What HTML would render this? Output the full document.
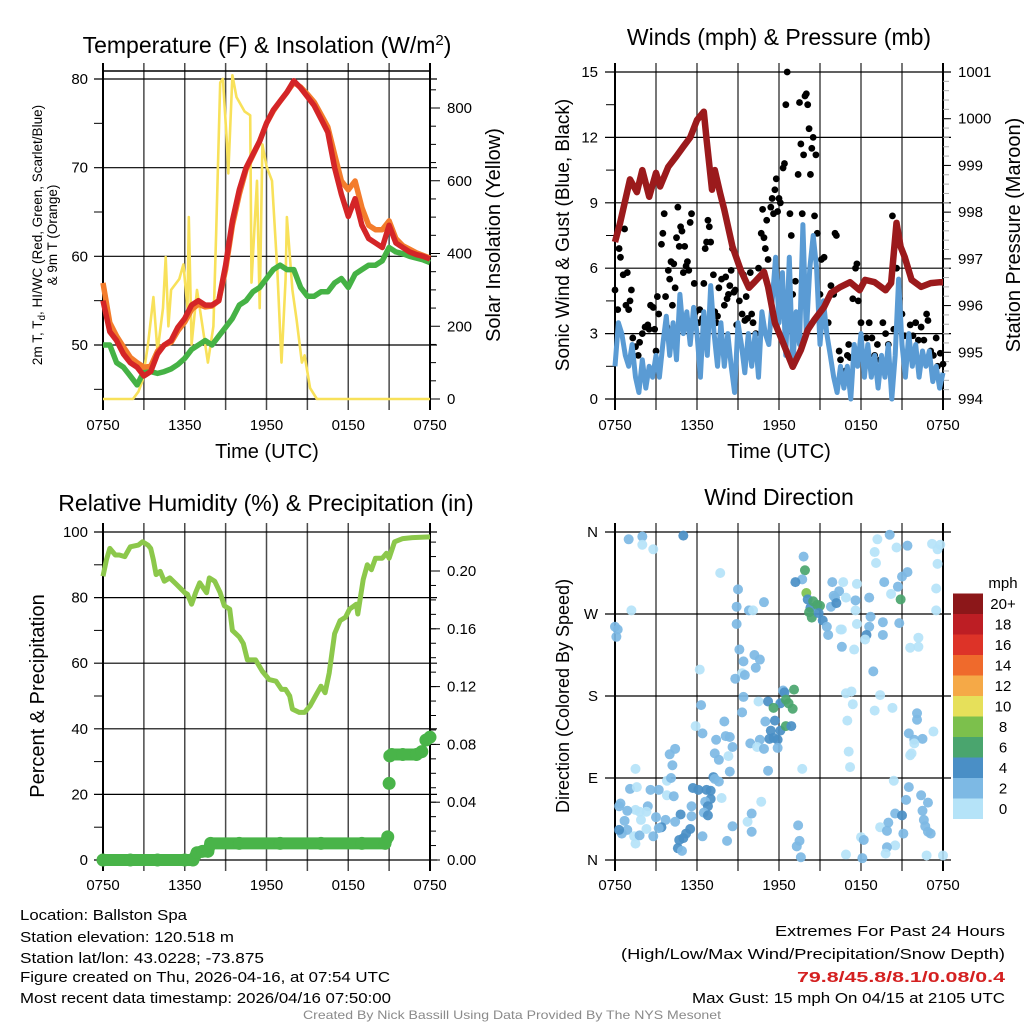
<!DOCTYPE html>
<html><head><meta charset="utf-8"><title>Ballston Spa meteogram</title>
<style>
html,body{margin:0;padding:0;background:#fff;}
svg{display:block;font-family:"Liberation Sans",sans-serif;}
</style></head>
<body>
<svg id="fig" xmlns="http://www.w3.org/2000/svg" width="1024" height="1024" viewBox="0 0 1024 1024">
<rect x="0" y="0" width="1024" height="1024" fill="#fff"/>
<text x="267" y="53" font-size="23" text-anchor="middle">Temperature (F) &amp; Insolation (W/m<tspan dy="-8" font-size="15">2</tspan><tspan dy="8">)</tspan></text>
<text x="779" y="45" font-size="23" text-anchor="middle">Winds (mph) &amp; Pressure (mb)</text>
<text x="266" y="511" font-size="23" text-anchor="middle">Relative Humidity (%) &amp; Precipitation (in)</text>
<text x="779" y="505" font-size="23" text-anchor="middle">Wind Direction</text>
<text x="267" y="458" font-size="20" text-anchor="middle">Time (UTC)</text>
<text x="779" y="458" font-size="20" text-anchor="middle">Time (UTC)</text>
<g transform="translate(42,235) rotate(-90)">
<text x="0" y="0" font-size="13.5" text-anchor="middle">2m T, T<tspan font-size="10" dy="3">d</tspan><tspan dy="-3">, HI/WC (Red, Green, Scarlet/Blue)</tspan></text>
<text x="0" y="15" font-size="13.5" text-anchor="middle">&amp; 9m T (Orange)</text>
</g>
<text transform="translate(500,235) rotate(-90)" font-size="20" text-anchor="middle">Solar Insolation (Yellow)</text>
<text transform="translate(569,235) rotate(-90)" font-size="19" text-anchor="middle">Sonic Wind &amp; Gust (Blue, Black)</text>
<text transform="translate(1020,235) rotate(-90)" font-size="20" text-anchor="middle">Station Pressure (Maroon)</text>
<text transform="translate(44,696) rotate(-90)" font-size="20" text-anchor="middle">Percent &amp; Precipitation</text>
<text transform="translate(569,696) rotate(-90)" font-size="18" text-anchor="middle">Direction (Colored By Speed)</text>
<text x="1003" y="588" font-size="15" text-anchor="middle">mph</text>
<g font-size="15">
<text x="20" y="920" textLength="167" lengthAdjust="spacingAndGlyphs">Location: Ballston Spa</text>
<text x="20" y="942" textLength="214" lengthAdjust="spacingAndGlyphs">Station elevation: 120.518 m</text>
<text x="20" y="963" textLength="244" lengthAdjust="spacingAndGlyphs">Station lat/lon: 43.0228; -73.875</text>
<text x="20" y="982" textLength="370" lengthAdjust="spacingAndGlyphs">Figure created on Thu, 2026-04-16, at 07:54 UTC</text>
<text x="20" y="1003" textLength="371" lengthAdjust="spacingAndGlyphs">Most recent data timestamp: 2026/04/16 07:50:00</text>
</g>
<g font-size="15">
<text x="775" y="936" textLength="230" lengthAdjust="spacingAndGlyphs">Extremes For Past 24 Hours</text>
<text x="621" y="959" textLength="384" lengthAdjust="spacingAndGlyphs">(High/Low/Max Wind/Precipitation/Snow Depth)</text>
<text x="797" y="982" textLength="208" lengthAdjust="spacingAndGlyphs" fill="#d42020" font-weight="bold">79.8/45.8/8.1/0.08/0.4</text>
<text x="692" y="1003" textLength="313" lengthAdjust="spacingAndGlyphs">Max Gust: 15 mph On 04/15 at 2105 UTC</text>
</g>
<text x="303" y="1019" font-size="12" fill="#8a8a8a" textLength="418" lengthAdjust="spacingAndGlyphs">Created By Nick Bassill Using Data Provided By The NYS Mesonet</text>
</svg>
<script>
// ---------------- data ----------------
const xTickLabels = ['0750','1350','1950','0150','0750'];
const xTickHours = [0,6,12,18,24];
const halfHours = [0,0.5,1,1.5,2,2.5,3,3.5,4,4.5,5,5.5,6,6.5,7,7.5,8,8.5,9,9.5,10,10.5,11,11.5,12,12.5,13,13.5,14,14.5,15,15.5,16,16.5,17,17.5,18,18.5,19,19.5,20,20.5,21,21.5,22,22.5,23,23.5,24];
const tempRed = [55,51.5,50.5,49,48,47.5,46.5,47,49,50,50.5,52,53,54.5,55,54.5,54.5,55,59,64,67.5,70,71.5,73,75,76.5,77.5,78.5,79.8,79,78,77,75.5,74,70,67,64.5,66.5,63.5,62,61.5,61,63.5,61.5,61,60.5,60.2,60,59.7];
const tempOrange = [57,52.5,51,49.8,48.6,48,47.5,47.6,49.3,50,50.3,51.6,52.6,54,54.6,54.3,54.4,55,58.5,63.5,67,69.8,71.4,73,75,76.4,77.5,78.5,79.6,79.1,78.3,77.4,76,74.6,71.5,68.5,67.5,68.5,65.5,63.5,63,63,64,62,61.2,60.8,60.4,60.1,59.8];
const dewGreen = [50,50,48,47.5,46.5,45.5,47,47,46.8,47,47.3,47.8,48.5,49.5,50,50.5,50,51,52,53,54.5,55,56,56.5,57.5,58.5,59,58.5,58.5,56.5,55.5,55.5,56,56,57,57.5,56.5,58,58.5,59,59,59.5,61,60.5,60.3,60,59.8,59.6,59.3];
const solarHours = [0,2.2,2.6,2.9,3.3,3.7,4.0,4.4,4.6,4.8,5.0,5.6,5.9,6.2,6.3,6.5,6.9,7.3,7.7,8.1,8.3,8.6,8.8,9.1,9.2,9.5,9.8,10.4,10.8,10.9,11.3,11.5,11.7,12.0,12.4,12.8,13.1,13.4,13.5,13.9,14.2,14.6,14.8,15.2,15.7,24];
const solarValues = [0,0,20,50,150,280,130,250,390,200,300,330,370,250,500,150,300,200,100,200,450,870,880,700,620,890,830,790,780,320,600,250,700,640,600,350,100,330,500,300,220,100,120,30,0,0];
const windHours = [];
for (let i = 0; i <= 96; i++) windHours.push(i * 0.25);
const windSpeed = [1.5,3.5,3,2,1.5,2.5,1,0.3,1.8,0.5,1.5,1,2,1,2.5,3.8,2,3.5,1.8,4.8,3,4,2.5,4.2,3,1,4,2,5.2,3,1.5,3.5,1.5,3,1.5,0.3,3.5,2.5,1.2,3,1.5,3,1,4,3,2.5,4.5,6.5,3.5,5.8,2,6.5,1.5,4,2.5,8,3,6,7.5,6,2.5,4.5,3,2,1,0.3,1.5,0.5,1.5,0,2.5,1.5,3,1,2.5,1,2,0.5,2,1,2.5,0,2,5.5,2.5,1,3,1.5,2.5,1,2.2,1.5,2.2,0.8,1.5,0.5,1.2];
const gustHours = [0,0.2,0.3,0.4,0.6,0.7,0.8,0.9,1.0,1.1,1.2,1.3,1.5,1.7,1.8,2.0,2.2,2.4,2.5,2.6,2.8,2.9,3.0,3.1,3.2,3.4,3.5,3.6,3.7,3.8,3.9,4.0,4.1,4.2,4.3,4.4,4.5,4.6,4.7,4.8,4.9,5.0,5.1,5.2,5.3,5.4,5.5,5.6,5.8,5.9,6.1,6.2,6.4,6.5,6.6,6.7,6.8,6.9,7.0,7.2,7.3,7.4,7.5,7.6,7.8,8.0,8.1,8.2,8.3,8.4,8.5,8.6,8.7,8.8,8.9,9.0,9.1,9.3,9.4,9.5,9.6,9.7,9.9,10.0,10.1,10.3,10.5,10.7,10.8,10.9,11.0,11.1,11.2,11.4,11.5,11.6,11.7,11.8,11.9,12.0,12.1,12.3,12.4,12.5,12.6,12.8,12.9,13.0,13.2,13.4,13.5,13.6,13.7,13.8,13.9,14.0,14.1,14.2,14.3,14.4,14.5,14.6,14.7,14.8,15.0,15.1,15.3,15.6,15.8,16.0,16.1,16.2,16.4,16.5,16.7,16.9,17.0,17.1,17.2,17.4,17.6,17.7,17.8,18.0,18.2,18.4,18.6,18.8,19.0,19.2,19.4,19.6,19.8,20.0,20.3,20.4,20.6,20.8,21.0,21.2,21.4,21.6,21.8,22.0,22.2,22.4,22.6,22.8,22.9,23.1,23.3,23.5,23.6,23.8,24.0];
const gustValues = [5.0,4.1,6.9,6.5,5.7,7.8,4.3,5.8,4.1,4.5,5.0,2.8,2.4,2.0,2.6,3.0,3.3,3.4,3.2,4.3,4.2,3.2,2.2,4.7,3.9,7.1,7.6,8.5,4.7,3.3,5.9,5.5,6.3,4.3,6.2,5.1,7.4,8.8,7.0,7.9,7.7,5.8,7.0,6.1,6.3,5.9,8.1,8.5,5.3,4.0,3.5,4.1,3.7,5.3,6.9,7.2,8.2,7.9,7.2,5.7,4.0,3.5,3.8,5.1,5.5,4.3,5.6,4.6,4.8,5.2,5.9,6.9,4.9,5.0,3.4,2.5,4.5,3.9,5.7,3.6,4.7,3.7,5.8,3.9,3.5,3.0,6.0,7.6,8.7,7.4,6.9,8.2,6.4,8.8,9.2,8.5,9.6,10.1,8.6,9.2,9.0,10.6,10.8,13.5,15.0,8.5,7.5,4.8,5.4,10.3,13.6,11.7,8.5,11.2,13.9,14.0,13.5,12.4,10.3,11.5,12.0,8.4,11.2,7.6,4.8,6.4,6.5,3.5,5.2,4.8,7.6,7.5,2.2,1.8,1.0,1.3,2.0,2.5,1.9,4.6,6.0,6.2,4.5,3.5,2.0,2.8,3.5,2.8,2.0,2.5,1.8,3.5,3.0,2.5,8.4,3.2,6.0,4.6,3.9,2.9,2.0,3.4,2.9,3.5,2.7,3.3,2.7,3.9,3.6,2.2,2.0,2.8,1.5,2.1,1.6];
const presHours = [0,0.37,1.1,1.6,2,2.5,3,3.3,3.9,4.5,5,5.5,6,6.5,6.7,7.1,7.3,7.7,8,8.6,9.2,9.8,10.2,10.9,11.2,11.7,12.3,13,13.6,14.1,14.6,15.3,15.8,16.5,17.2,17.9,18.3,19,19.8,20.2,20.6,20.9,21.2,21.7,22.4,23.1,23.8,24];
const presValues = [997.36,997.77,998.7,998.43,998.9,998.33,998.84,998.55,998.97,999.2,999.4,999.6,999.97,1000.15,999.55,998.48,998.9,998.4,998.05,997.26,996.76,996.38,996.5,996.72,996.4,995.63,995.2,994.69,995.05,995.48,995.7,995.97,996.27,996.4,996.5,996.33,996.55,996.5,996.33,996.48,997.77,997.26,997.04,996.55,996.4,996.48,996.5,996.5];
const rhHours = [0,0.25,0.5,0.9,1.2,1.6,2,2.6,2.9,3.3,3.5,3.7,3.9,4.2,4.5,4.9,5.4,6,6.2,6.5,6.8,7.1,7.6,7.8,8.2,8.6,8.9,9.3,9.5,10,10.3,10.6,11.2,11.7,12.2,12.7,13.1,13.4,13.7,13.9,14.4,14.8,15.2,15.6,16,16.3,16.6,17,17.4,17.8,18.1,18.6,18.7,19.1,19.4,19.7,20,20.5,20.8,21,21.4,22,22.7,24];
const rhValues = [86.5,91.5,95,93,93,92.5,95.5,96,97,96,95,91.5,87,88,85,86,84,81.5,81,78,81.5,84.5,81.5,86,85,81.5,77.5,76.5,70,68,66,61,61,57.5,55,54.5,52,52,50,46,45,45,47,50,53,51,57,69,73,74,76.5,78,75,85.5,90,88.5,92,92,93.5,92,97,98,98.3,98.5];
const precipHours = [0,2,4,6,6.6,6.9,7.3,7.7,7.9,10,13,16,19,20.7,20.9,21,21.05,21.2,22,23,23.4,23.7,24];
const precipValues = [0,0,0,0,0,0.005,0.006,0.006,0.0115,0.0115,0.0115,0.0115,0.0115,0.0115,0.016,0.053,0.072,0.073,0.073,0.073,0.075,0.083,0.085];
const dirHours = [
 1.0,2.0,2.0,2.8,5.0,7.7,1.2,0,0.2,0.1,
 9.0,8.9,8.9,9.8,10.1,10.9,9.1,10.2,10.6,9.4,10.3,9.3,9.5,8.8,6.2,
 13.8,13.9,13.7,13.2,14.0,14.1,14.3,14.5,14.8,15.0,14.2,14.4,14.9,15.2,15.5,15.6,
 15.9,16.1,16.4,16.0,15.8,16.2,
 16.7,16.9,17.6,17.7,17.6,17.7,16.5,16.6,16.6,17.5,
 18.6,18.7,18.6,18.4,18.3,18.9,
 19.7,19.6,19.6,
 20.2,20.7,20.9,20.8,21.0,21.4,
 19.2,19.0,19.1,20.1,20.6,21.4,
 23.2,23.6,23.8,23.6,23.5,23.5,
 22.2,21.6,22.2,
 16.9,17.3,17.4,19.4,19.0,20.3,17.0,
 22.1,22.1,21.5,21.9,22.5,21.9,23.3,21.6,21.7,
 17.1,17.2,
 20.4,21.5,22.4,21.3,22.9,20.5,21.0,22.5,22.6,20.0,19.4,19.9,22.7,22.9,23.1,21.1,20.5,19.9,19.8,18.0,18.2,18.1,16.9,22.8,24.0,
 13.4,13.5,13.3,13.6,13.7,
 9.7,10.0,10.0,10.7,8.2,8.6,
 9.4,10.5,9.3,11.2,12.1,11.6,12.3,12.4,13.1,12.5,12.7,13.0,11.0,11.7,11.4,12.1,12.5,12.9,10.6,11.3,11.9,11.6,9.9,10.4,10.9,11.9,11.2,
 6.3,5.9,6.4,7.4,8.0,8.1,8.4,8.6,7.3,7.6,8.3,8.4,
 4.4,4.0,4.2,1.5,3.8,4.1,7.2,7.3,7.6,7.8,
 1.1,1.6,2.6,3.2,3.8,4.3,5.7,6.1,6.7,7.0,7.0,6.6,6.8,5.6,6.5,6.8,4.8,5.6,5.5,5.2,5.0,4.7,4.6,4.9,6.4,4.4,3.7,3.4,2.8,3.0,2.4,2.3,1.9,1.8,1.5,0.9,0.4,0.3,0.7,0.9,0.5,0.3,1.4,1.5,1.8,2.3,3.2];
const dirDegrees = [
 352,355,346,341,356,315,274,256,253,245,
 297,278,259,274,274,283,231,225,220,218,211,205,203,199,209,
 333,318,308,305,293,286,277,284,280,279,272,266,271,263,256,247,
 305,288,295,290,278,282,
 305,288,285,303,274,259,253,253,234,231,
 288,267,256,247,242,207,
 305,261,247,
 292,300,286,260,311,316,
 352,338,326,357,343,345,
 347,341,346,325,298,274,
 244,233,234,
 183,185,171,181,164,167,153,
 161,154,139,132,133,128,141,115,117,
 119,102,
 87,80,71,66,63,51,49,54,44,41,36,32,37,31,29,29,16,14,7,25,22,2,6,5,5,
 38,21,15,3,100,
 42,31,51,64,21,37,
 179,174,162,174,172,167,186,184,187,176,172,166,152,153,142,142,147,147,132,133,132,134,128,124,122,123,98,
 170,147,139,132,152,136,135,124,117,110,114,97,
 122,116,104,100,87,90,91,89,86,68,
 78,80,77,77,71,70,79,77,77,76,67,64,59,59,52,49,50,48,34,29,24,22,13,10,26,42,44,36,26,47,59,53,44,53,55,54,62,59,43,33,29,33,26,18,27,34,35];
const dirSpeeds = [
 3,3,1,1,5,1,1,3,3,3,
 3,3,3,3,1,3,3,3,3,3,3,1,3,3,1,
 3,7,3,5,9,5,5,7,7,7,7,7,5,5,3,3,
 3,3,3,3,3,5,
 1,1,3,1,1,1,1,1,3,1,
 3,3,3,5,1,3,
 3,3,3,
 1,3,7,3,3,3,
 1,1,1,3,1,3,
 1,1,1,1,1,1,
 1,1,1,
 1,1,1,1,1,1,1,
 3,3,3,3,3,1,1,1,1,
 1,1,
 1,3,3,3,3,3,5,3,3,3,1,3,3,3,3,3,1,3,1,1,3,3,1,1,1,
 3,3,3,3,1,
 1,3,3,1,3,3,
 3,1,3,5,5,7,3,5,7,7,7,7,3,5,5,5,7,5,3,5,5,5,3,1,3,3,3,
 3,1,3,3,3,3,3,3,3,3,1,3,
 3,3,3,1,1,3,5,3,3,1,
 3,1,3,3,1,3,5,5,5,5,5,3,5,3,3,5,5,3,5,5,5,5,5,3,3,3,3,5,3,3,3,1,1,1,1,3,3,3,3,3,3,5,1,1,3,1,3];
const cbLabels = ['0','2','4','6','8','10','12','14','16','18','20+'];
const cbColors = ['#b5e3f8','#7db9e4','#4a8fc6','#4aa56e','#7cc04c','#e6e05a','#f5a947','#ef6a2c','#dd3328','#bd1e24','#8c1719'];

// ---------------- helpers ----------------
const NS = 'http://www.w3.org/2000/svg';
const svg = document.getElementById('fig');
function mk(tag, attrs, parent) {
  const e = document.createElementNS(NS, tag);
  for (const k in attrs) e.setAttribute(k, attrs[k]);
  (parent || svg).appendChild(e);
  return e;
}
function linearScale(d0, d1, r0, r1) { return v => r0 + (v - d0) * (r1 - r0) / (d1 - d0); }
function pathFrom(xs, ys, fx, fy) {
  let d = '';
  const n = Math.min(xs.length, ys.length);
  for (let i = 0; i < n; i++) d += (i ? 'L' : 'M') + fx(xs[i]).toFixed(1) + ',' + fy(ys[i]).toFixed(1);
  return d;
}
function timeGrid(name, x0, x1, yTop, yBot, labelY) {
  const fx = linearScale(0, 24, x0, x1);
  for (let h = 0; h <= 24; h += 3) {
    const edge = (h === 0 || h === 24);
    const ln = mk('line', {x1: fx(h), x2: fx(h), y1: yTop - 9, y2: yBot + 11, stroke: edge ? '#000' : '#4a4a4a', 'stroke-width': edge ? 2 : 1.5});
    
    
  }
  for (let i = 0; i < xTickHours.length; i++) {
    const t = mk('text', {x: fx(xTickHours[i]), y: labelY, 'font-size': 15, 'text-anchor': 'middle'});
    t.textContent = xTickLabels[i];
    
    
  }
  return fx;
}
function hGrid(name, xa, xb, y) {
  const ln = mk('line', {x1: xa, x2: xb, y1: y, y2: y, stroke: '#000', 'stroke-width': 1.2});
  
  
}
function tickLabel(name, x, y, txt, anchor) {
  const t = mk('text', {x: x, y: y + 5, 'font-size': 15, 'text-anchor': anchor});
  t.textContent = txt;
  
  
}
function tick(name, x1, x2, y, color) {
  const ln = mk('line', {x1: x1, x2: x2, y1: y, y2: y, stroke: color || '#000', 'stroke-width': 1});
  
  
}

// ================= Panel 1: temperature =================
const p1x = timeGrid('temp', 103, 430, 72, 399, 430);
const p1y = linearScale(50, 80, 345, 79);
const p1s = linearScale(0, 800, 399, 108);
for (let v = 50; v <= 80; v += 10) { hGrid('temp', 94, 437, p1y(v)); tickLabel('temp-y-tick-label', 88, p1y(v), String(v), 'end'); }
for (let v = 45; v <= 80; v += 10) tick('temp-minor-tick', 94, 103, p1y(v));
for (let v = 0; v <= 880; v += 50) tick('solar-minor-tick', 430, v % 200 === 0 ? 440 : 436, p1s(v));
for (let v = 0; v <= 800; v += 200) tickLabel('solar-y-tick-label', 447, p1s(v), String(v), 'start');
const p1frame = mk('path', {d: 'M103,71H430M103,399H430', stroke: '#000', 'stroke-width': 1.5, fill: 'none'});


const solarLine = mk('path', {d: pathFrom(solarHours, solarValues, p1x, p1s), stroke: '#f8e15a', 'stroke-width': 2.6, fill: 'none', 'stroke-linejoin': 'round'});


const dewLine = mk('path', {d: pathFrom(halfHours, dewGreen, p1x, p1y), stroke: '#45b245', 'stroke-width': 5.5, fill: 'none', 'stroke-linejoin': 'round'});


const t9Line = mk('path', {d: pathFrom(halfHours, tempOrange, p1x, p1y), stroke: '#f37c2c', 'stroke-width': 5.5, fill: 'none', 'stroke-linejoin': 'round'});


const t2Line = mk('path', {d: pathFrom(halfHours, tempRed, p1x, p1y), stroke: '#d42527', 'stroke-width': 5.5, fill: 'none', 'stroke-linejoin': 'round'});



// ================= Panel 2: winds & pressure =================
const p2x = timeGrid('wind', 615, 943, 72, 399, 430);
const p2y = linearScale(0, 15, 399, 72);
const p2p = linearScale(994, 1001, 399, 72);
for (let v = 0; v <= 15; v += 3) { hGrid('wind', 605, 951, p2y(v)); tickLabel('wind-y-tick-label', 598, p2y(v), String(v), 'end'); }
for (let v = 1.5; v < 15; v += 3) tick('wind-minor-tick', 606, 615, p2y(v));
for (let v = 994; v <= 1001.01; v += 0.2) tick('pressure-minor-tick', 943, 949, p2p(v), '#aaa');
for (let v = 994; v <= 1001; v += 1) { tick('pressure-major-tick', 943, 951, p2p(v)); tickLabel('pressure-y-tick-label', 958, p2p(v), String(v), 'start'); }
const gustG = mk('g', {});


for (let i = 0; i < Math.min(gustHours.length, gustValues.length); i++) {
  const c = mk('circle', {cx: p2x(gustHours[i]), cy: p2y(gustValues[i]), r: 3.4, fill: '#000'}, gustG);
  
  
}
const windLine = mk('path', {d: pathFrom(windHours, windSpeed, p2x, p2y), stroke: '#5a9bd4', 'stroke-width': 5, fill: 'none', 'stroke-linejoin': 'round'});


const presLine = mk('path', {d: pathFrom(presHours, presValues, p2x, p2p), stroke: '#9b1a1c', 'stroke-width': 6.5, fill: 'none', 'stroke-linejoin': 'round'});



// ================= Panel 3: RH & precip =================
const p3x = timeGrid('rh', 103, 430, 532, 860, 890);
const p3y = linearScale(0, 100, 860, 532);
const p3p = linearScale(0, 0.2, 860, 571);
for (let v = 0; v <= 100; v += 20) { hGrid('rh', 94, 437, p3y(v)); tickLabel('rh-y-tick-label', 88, p3y(v), String(v), 'end'); }
for (let v = 10; v < 100; v += 20) tick('rh-minor-tick', 94, 103, p3y(v));
for (let v = 0; v <= 0.225; v += 0.01) tick('precip-minor-tick', 430, 436, p3p(v));
for (let v = 0; v <= 0.2001; v += 0.04) { tick('precip-major-tick', 430, 440, p3p(v)); tickLabel('precip-y-tick-label', 447, p3p(v), v.toFixed(2), 'start'); }
const rhLine = mk('path', {d: pathFrom(rhHours, rhValues, p3x, p3y), stroke: '#8cc84b', 'stroke-width': 5, fill: 'none', 'stroke-linejoin': 'round'});


const precipG = mk('g', {});


for (let i = 0; i < precipHours.length; i++) {
  if (i > 0 && Math.abs(precipValues[i] - precipValues[i - 1]) < 0.006) {
    const s = mk('line', {x1: p3x(precipHours[i - 1]), y1: p3p(precipValues[i - 1]), x2: p3x(precipHours[i]), y2: p3p(precipValues[i]), stroke: '#49b449', 'stroke-width': 12, 'stroke-linecap': 'round'}, precipG);
    
    
  }
  const c = mk('circle', {cx: p3x(precipHours[i]), cy: p3p(precipValues[i]), r: 6.5, fill: '#49b449'}, precipG);
  
  
}

// ================= Panel 4: wind direction =================
const p4x = timeGrid('dir', 615, 943, 532, 860, 890);
const p4y = linearScale(0, 360, 860, 532);
const dirNames = ['N','E','S','W','N'];
for (let i = 0; i < 5; i++) { hGrid('dir', 605, 951, p4y(i * 90)); tickLabel('dir-y-tick-label', 598, p4y(i * 90), dirNames[i], 'end'); }
const dirG = mk('g', {});


const nDir = Math.min(dirHours.length, dirDegrees.length, dirSpeeds.length);
for (let i = 0; i < nDir; i++) {
  const ci = Math.max(0, Math.min(10, Math.floor(dirSpeeds[i] / 2)));
  const c = mk('circle', {cx: p4x(dirHours[i]), cy: p4y(dirDegrees[i]), r: 5, fill: cbColors[ci], 'fill-opacity': 0.92}, dirG);
  
  
}
for (let i = 0; i < cbColors.length; i++) {
  const y = 819 - (i + 1) * 20.5;
  const r = mk('rect', {x: 953, y: y, width: 30, height: 20.5, fill: cbColors[i]});
  
  
  const t = mk('text', {x: 1003, y: y + 15.5, 'font-size': 15, 'text-anchor': 'middle'});
  t.textContent = cbLabels[i];
  
  
}
</script>
</body></html>
